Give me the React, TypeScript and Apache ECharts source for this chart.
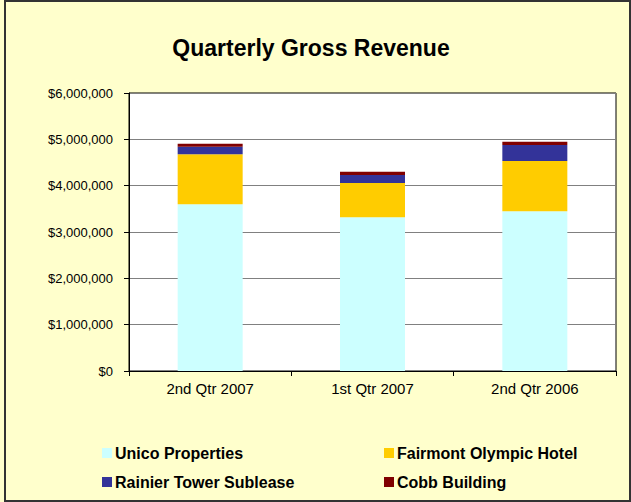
import React, { useEffect, useRef } from "react";
import * as echarts from "echarts";

const categories = ["2nd Qtr 2007", "1st Qtr 2007", "2nd Qtr 2006"];
const unico = [3600000, 3320000, 3450000];
const fairmont = [1080000, 740000, 1080000];
const rainier = [160000, 170000, 350000];
const cobb = [65000, 70000, 70000];
const yTicks = [0, 1000000, 2000000, 3000000, 4000000, 5000000, 6000000];

const fmt = (v: number) => "$" + v.toLocaleString("en-US");

export default function App() {
  const ref = useRef<HTMLDivElement>(null);
  useEffect(() => {
    if (!ref.current) return;
    const chart = echarts.init(ref.current, undefined, { renderer: "svg" });
    const font = "Arial, 'Liberation Sans', sans-serif";
    const mk = (name: string, data: number[], color: string) => ({
      name,
      type: "bar",
      stack: "total",
      data,
      barWidth: 65,
      itemStyle: { color },
      emphasis: { disabled: true },
    });
    const legendText = { fontSize: 16, fontWeight: "bold", color: "#000", fontFamily: font, padding: [0, 0, 0, -2] };
    chart.setOption({
      animation: false,
      backgroundColor: "#FFFFCC",
      textStyle: { fontFamily: font },
      title: {
        text: "Quarterly Gross Revenue",
        left: 306,
        textAlign: "center",
        top: 31,
        textStyle: { fontSize: 23, fontWeight: "bold", color: "#000", fontFamily: font },
      },
      graphic: [
        {
          type: "rect",
          shape: { x: 5, y: 1, width: 625, height: 500 },
          style: { fill: "none", stroke: "#333", lineWidth: 2 },
          silent: true,
        },
      ],
      legend: [
        {
          data: ["Unico Properties", "Rainier Tower Sublease"],
          orient: "vertical",
          left: 97,
          top: 440,
          itemWidth: 10,
          itemHeight: 10,
          itemGap: 13,
          textStyle: legendText,
          icon: "rect",
        },
        {
          data: ["Fairmont Olympic Hotel", "Cobb Building"],
          orient: "vertical",
          left: 379,
          top: 440,
          itemWidth: 10,
          itemHeight: 10,
          itemGap: 13,
          textStyle: legendText,
          icon: "rect",
        },
      ],
      grid: {
        left: 129,
        right: 15,
        top: 93,
        bottom: 131,
        show: true,
        backgroundColor: "#fff",
        borderColor: "#000",
        borderWidth: 1,
      },
      xAxis: {
        type: "category",
        data: categories,
        axisLine: { lineStyle: { color: "#000", width: 1 } },
        axisTick: { show: true, length: 5, lineStyle: { color: "#000" } },
        axisLabel: { fontSize: 15, color: "#000", margin: 10, fontFamily: font },
      },
      yAxis: {
        type: "value",
        min: yTicks[0],
        max: yTicks[yTicks.length - 1],
        interval: 1000000,
        axisLine: { show: true, lineStyle: { color: "#000" } },
        axisTick: { show: true, length: 5, lineStyle: { color: "#000" } },
        splitLine: { lineStyle: { color: "#808080", width: 1 } },
        axisLabel: { fontSize: 13, color: "#000", margin: 16, formatter: fmt, fontFamily: font },
      },
      series: [
        mk("Unico Properties", unico, "#CCFFFF"),
        mk("Fairmont Olympic Hotel", fairmont, "#FFCC00"),
        mk("Rainier Tower Sublease", rainier, "#333399"),
        mk("Cobb Building", cobb, "#800000"),
      ],
    });
    return () => chart.dispose();
  }, []);
  return (
    <div
      ref={ref}
      style={{ position: "absolute", left: 0, top: 0, width: 631, height: 502 }}
    />
  );
}
